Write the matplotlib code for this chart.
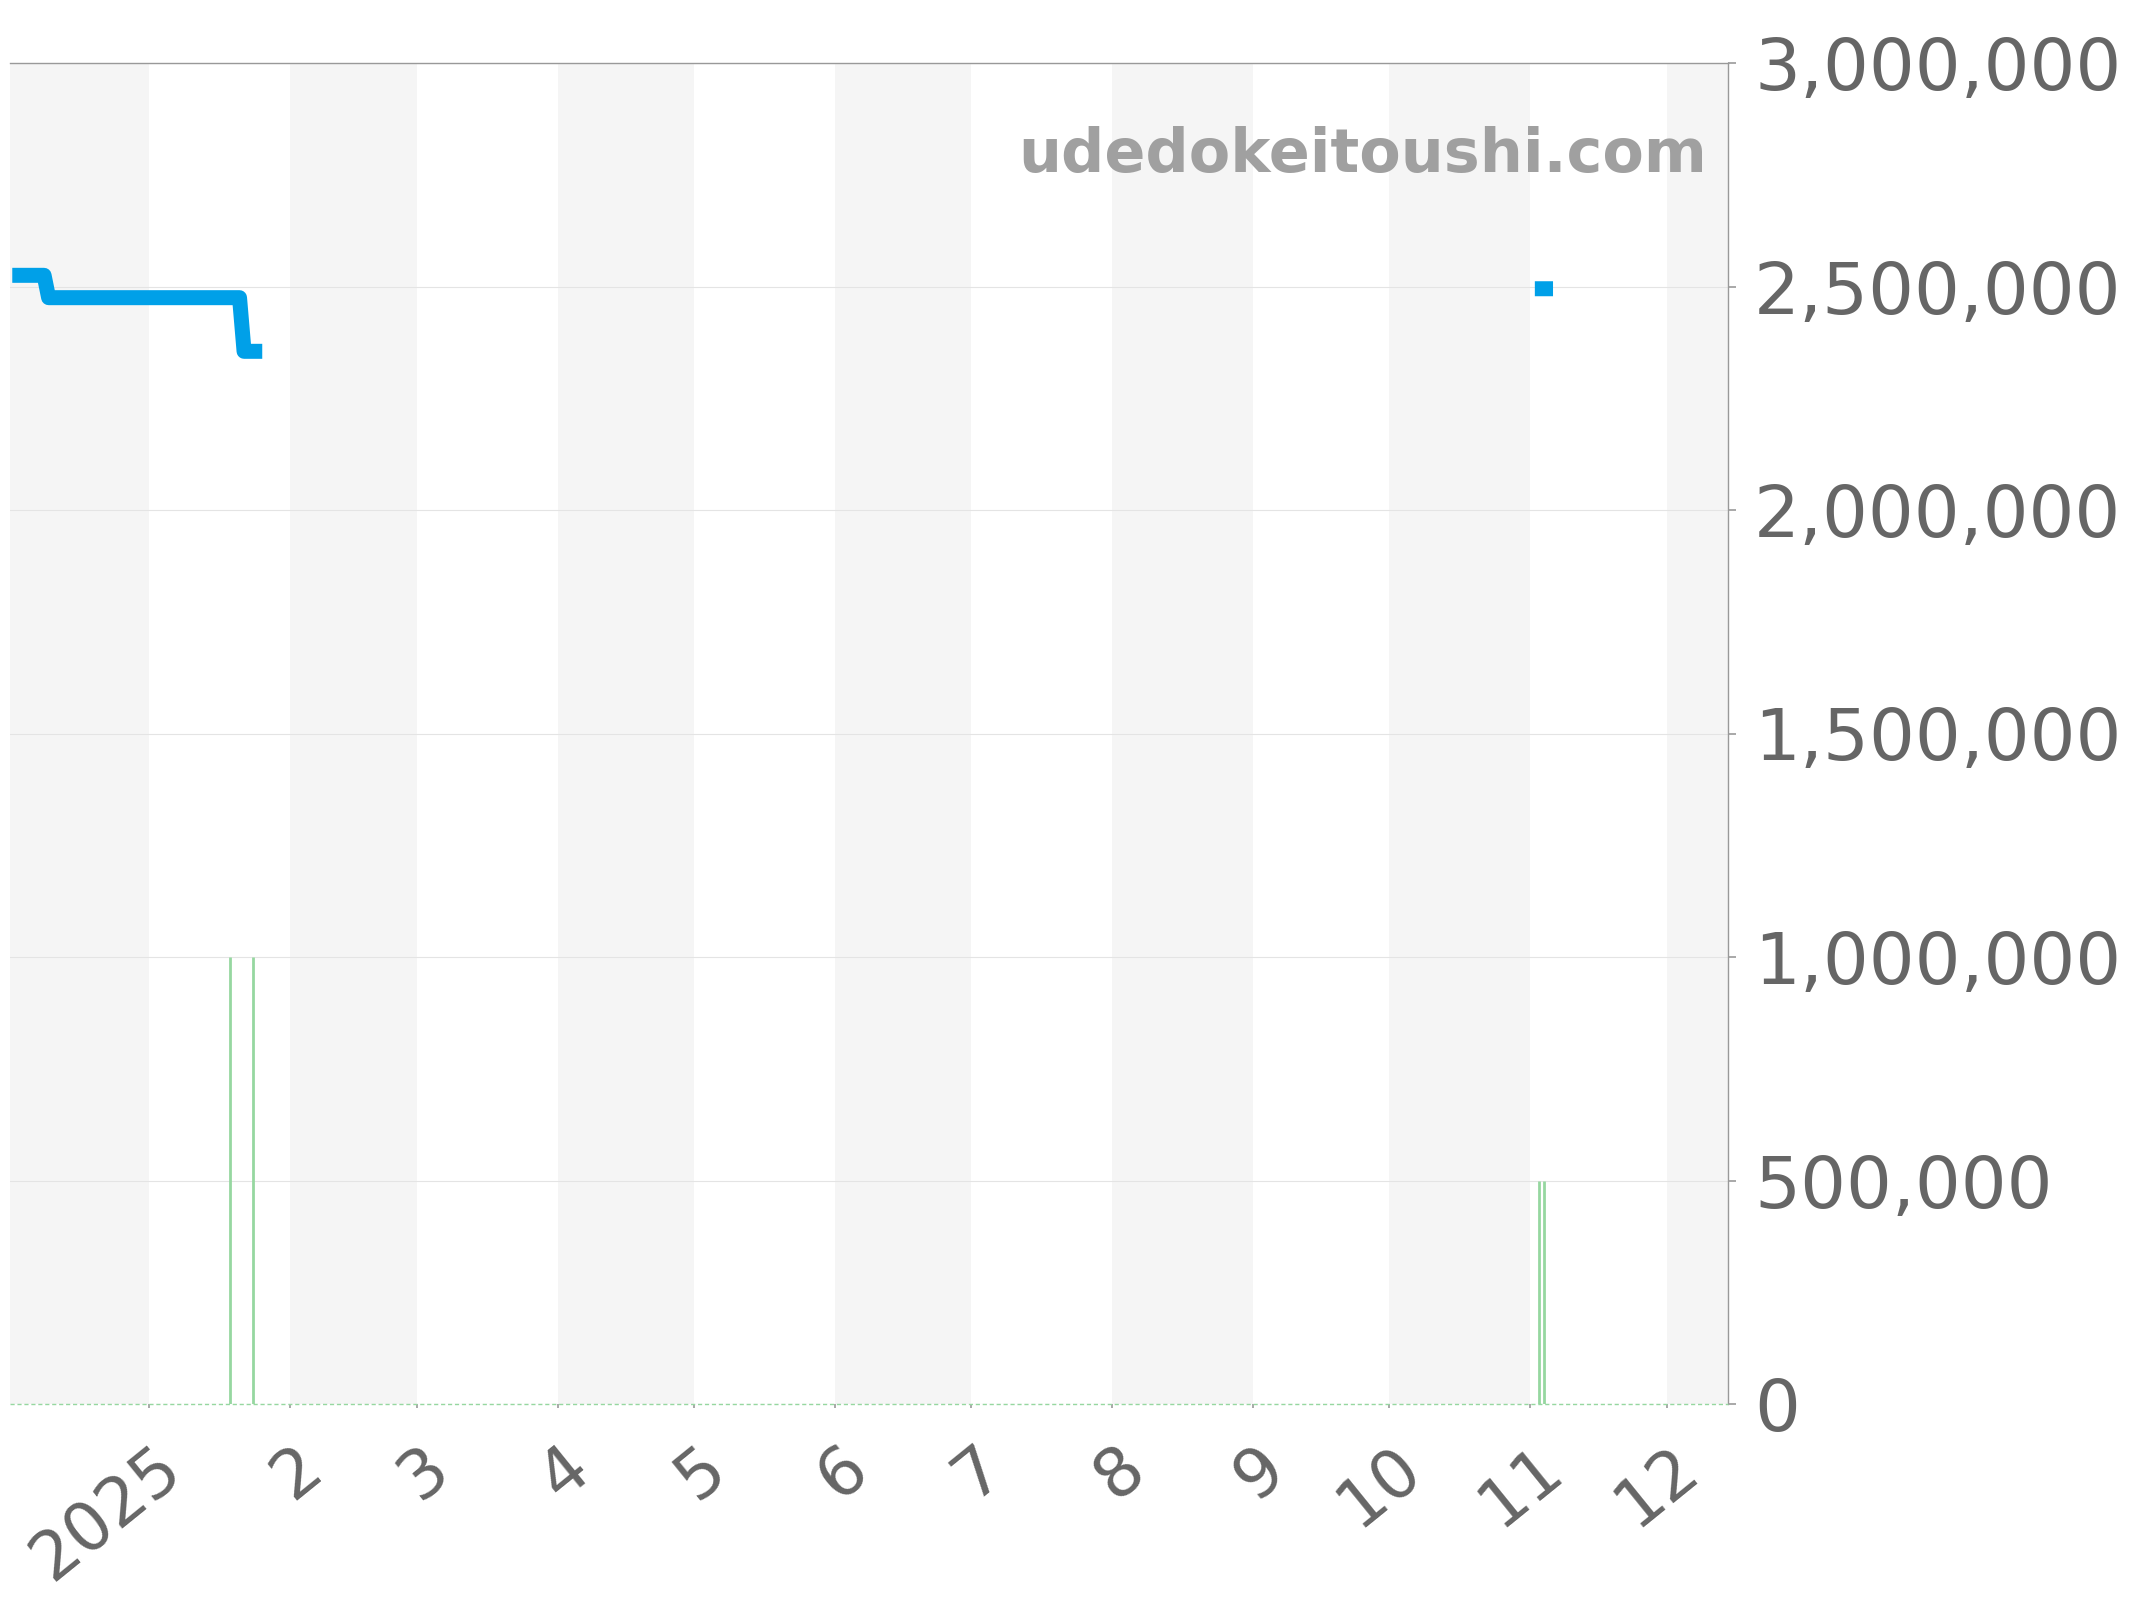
import matplotlib
matplotlib.use("Agg")
import matplotlib.pyplot as plt
import matplotlib.dates as mdates
import matplotlib.transforms as mtransforms
from matplotlib.ticker import FuncFormatter
import numpy as np
import datetime as dt

# price line, nan breaks the line
price_dates = ["2024-12-02", "2024-12-09", "2024-12-10", "2025-01-21", "2025-01-22",
               "2025-01-26", "2025-06-01", "2025-11-02", "2025-11-06"]
price_values = [2525000, 2525000, 2475000, 2475000, 2355000,
                2355000, np.nan, 2495000, 2495000]

# green bars
bar_dates = ["2025-01-19", "2025-01-24", "2025-11-03", "2025-11-04"]
bar_values = [1000000, 1000000, 500000, 500000]

month_labels = ["2025", "2", "3", "4", "5", "6", "7", "8", "9", "10", "11", "12"]
y_ticks = [0, 500000, 1000000, 1500000, 2000000, 2500000, 3000000]

xmin = dt.datetime(2024, 12, 1, 12)
xmax = dt.datetime(2025, 12, 14, 12)

fig = plt.figure(figsize=(21.44, 16), dpi=100)
ax = fig.add_axes([10 / 2144, 1 - 1404 / 1600, 1718 / 2144, 1341 / 1600])

# alternating month bands
months = [dt.datetime(2024, 12, 1)] + [dt.datetime(2025, m, 1) for m in range(1, 13)] + [dt.datetime(2026, 1, 1)]
for i in range(len(months) - 1):
    if months[i].month % 2 == 0:
        ax.axvspan(max(months[i], xmin), min(months[i + 1], xmax), color="#f5f5f5", lw=0, zorder=0)

pd_ = [dt.datetime.strptime(d, "%Y-%m-%d") for d in price_dates]
bd_ = [dt.datetime.strptime(d, "%Y-%m-%d") for d in bar_dates]

ax.vlines(bd_, 0, bar_values, color="#96d7a0", lw=2.0, zorder=3)
ax.axhline(0, color="#96d7a0", lw=1.0, ls=(0, (3, 2)), zorder=3, clip_on=False)
ax.plot(pd_, price_values, color="#00a0e8", lw=10.8, solid_capstyle="butt",
        solid_joinstyle="round", zorder=4)

ax.set_xlim(xmin, xmax)
ax.set_ylim(0, 3000000)
ax.set_yticks(y_ticks)
ax.yaxis.set_major_formatter(FuncFormatter(lambda v, p: f"{int(v):,}"))
ax.yaxis.tick_right()
ax.grid(axis="y", color="#e4e4e4", lw=0.8, zorder=1)
ax.set_axisbelow(True)

ax.set_xticks([mdates.date2num(m) for m in months[1:13]])
ax.set_xticklabels(month_labels, rotation=39, rotation_mode="anchor", ha="right", va="top")

ax.tick_params(axis="x", length=3, width=1.2, color="#999999", pad=18.6,
               labelsize=48.5, labelcolor="#666666")
ax.tick_params(axis="y", length=5.8, width=1.2, color="#999999", pad=13,
               labelsize=52, labelcolor="#666666")

shift = mtransforms.ScaledTranslation(3 / 100, 0, fig.dpi_scale_trans)
for lbl in ax.get_xticklabels():
    lbl.set_transform(lbl.get_transform() + shift)

for s in ["left", "bottom"]:
    ax.spines[s].set_visible(False)
for s in ["top", "right"]:
    ax.spines[s].set_color("#999999")
    ax.spines[s].set_linewidth(1.0)

ax.text(0.9878, 0.919, "udedokeitoushi.com", transform=ax.transAxes, ha="right",
        va="baseline", fontsize=43.5, fontweight="bold", color="#a0a0a0", zorder=5)

fig.savefig("out.png", dpi=100)
